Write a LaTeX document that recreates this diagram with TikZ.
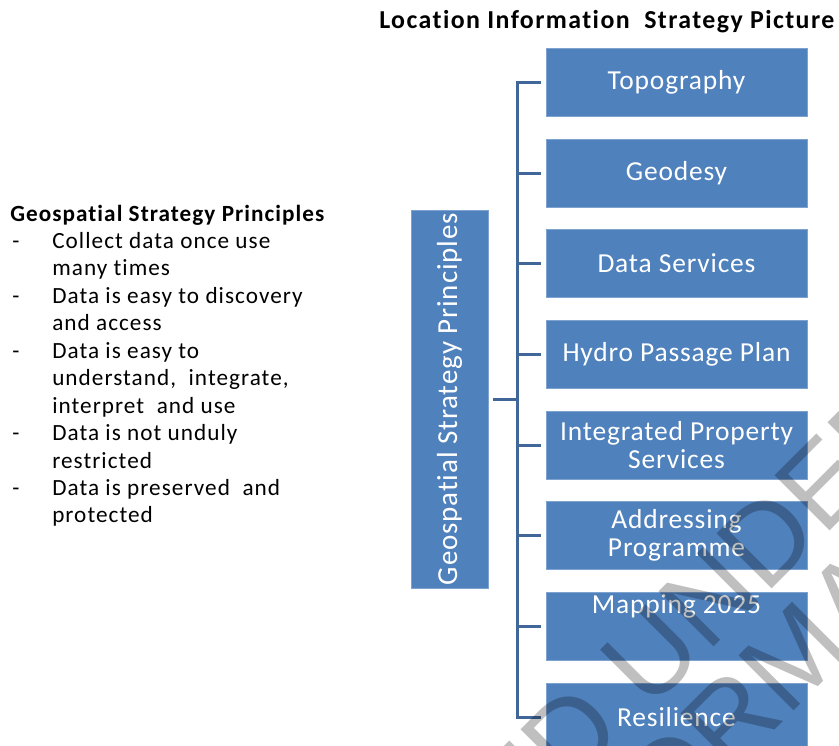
\documentclass[tikz,border=0pt]{standalone}
\usepackage{fontspec}
\setmainfont[Ligatures=NoCommon]{Carlito}
\newfontfamily\boxfont[LetterSpace=3,Ligatures=NoCommon]{Carlito}
\newfontfamily\ltfont[LetterSpace=4.5,Ligatures=NoCommon]{Carlito}
\newfontfamily\titfont[LetterSpace=5.5,Ligatures=NoCommon]{Carlito}
\newfontfamily\wmfont{Liberation Sans}
\definecolor{boxblue}{HTML}{4F81BD}
\definecolor{boxedge}{HTML}{7FA3D1}
\definecolor{connblue}{HTML}{41679A}
\begin{document}
\begin{tikzpicture}[x=0.75pt,y=-0.75pt,
  box/.style={fill=boxblue, draw=boxedge, line width=0.6pt, minimum width=195.75pt,
    minimum height=51pt, inner sep=0pt, text=white, align=center,
    font=\boxfont\fontsize{20.6pt}{21.4pt}\selectfont},
  boxlabel/.style={inner sep=0pt, text=white, font=\boxfont\fontsize{20.6pt}{21.4pt}\selectfont},
  conn/.style={draw=connblue, line width=2.25pt},
  ltext/.style={anchor=base west, inner sep=0pt, font=\ltfont\fontsize{17.4pt}{20pt}\selectfont},
  lhead/.style={anchor=base west, inner sep=0pt, font=\ltfont\bfseries\fontsize{17.4pt}{20pt}\selectfont},
  title/.style={anchor=base west, inner sep=0pt, font=\titfont\bfseries\fontsize{19.4pt}{20pt}\selectfont},
  wmark/.style={anchor=base west, inner sep=0pt, rotate=45, text=black, text opacity=0.25,
    font=\wmfont\fontsize{85pt}{85pt}\selectfont}
]
\useasboundingbox (0,0) rectangle (839,746);
\fill[white] (0,0) rectangle (839,746);

% title
\node[title] (title) at (379,28.3) {Location Information\ \ Strategy Picture};

% left text
\node[lhead] (head) at (10,221) {Geospatial Strategy Principles};
\node[ltext] (d1) at (12,248) {-};
\node[ltext] (l1) at (52,248) {Collect data once use};
\node[ltext] (l2) at (52,275.5) {many times};
\node[ltext] (d2) at (12,303) {-};
\node[ltext] (l3) at (52,303) {Data is easy to discovery};
\node[ltext] (l4) at (52,330.5) {and access};
\node[ltext] (d3) at (12,358) {-};
\node[ltext] (l5) at (52,358) {Data is easy to};
\node[ltext] (l6) at (52,385.5) {understand,\ \ integrate,};
\node[ltext] (l7) at (52,413) {interpret\ \ and use};
\node[ltext] (d4) at (12,440.5) {-};
\node[ltext] (l8) at (52,440.5) {Data is not unduly};
\node[ltext] (l9) at (52,468) {restricted};
\node[ltext] (d5) at (12,495) {-};
\node[ltext] (l10) at (52,495) {Data is preserved\ \ and};
\node[ltext] (l11) at (52,522.5) {protected};

% left box
\node[box, minimum width=57.75pt, minimum height=283.5pt,
  font=\boxfont\fontsize{21.75pt}{22pt}\selectfont] (L) at (449.5,399)
  {\rotatebox{90}{Geospatial Strategy Principles}};

% right boxes
\node[box] (b1) at (676.5,82) {Topography};
\node[box] (b2) at (676.5,173) {Geodesy};
\node[box] (b3) at (676.5,263.5) {Data Services};
\node[box] (b4) at (676.5,354) {Hydro Passage Plan};
\node[box] (b5) at (676.5,445) {Integrated Property\\Services};
\node[box] (b6) at (676.5,535.5) {Addressing\\Programme};
\node[box] (b7) at (676.5,626) {};
\node[boxlabel, anchor=base] (t7) at (676.5,613) {Mapping 2025};
\node[box] (b8) at (676.5,717) {Resilience};

% connectors
\coordinate (sp) at (517,399);
\draw[conn] ([xshift=-3.75pt]b1.west) -| (sp) |- ([xshift=-3.75pt]b8.west);
\foreach \i in {2,...,7}{
  \draw[conn] ([xshift=-3.75pt]b\i.west) -- (sp |- b\i.west);
}
\draw[conn] ([xshift=3.75pt]L.east) -- (L.east -| sp);

% watermark
\begin{scope}
\clip (0,0) rectangle (839,746);
\node[wmark] (wm1) at (200,1161) {RELEASED UNDER THE};
\node[wmark] (wm2) at (155,1350) {OFFICIAL INFORMATION ACT};
\end{scope}
\end{tikzpicture}
\end{document}
